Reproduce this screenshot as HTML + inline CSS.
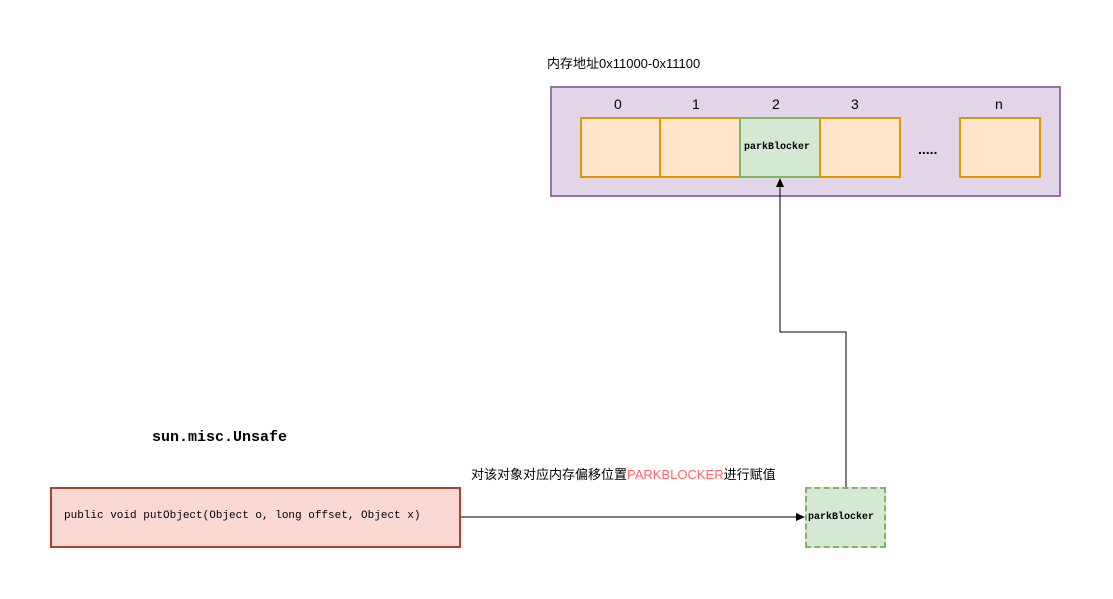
<!DOCTYPE html>
<html><head><meta charset="utf-8"><style>
body{margin:0;width:1113px;height:599px;background:#fff;overflow:hidden;position:relative;font-family:"Liberation Sans","Noto Sans CJK SC",sans-serif}
.a{position:absolute;box-sizing:border-box}
.t{position:absolute;font-size:14px;color:#000;white-space:nowrap}
.c{background:#ffe6cc;border:2px solid #d79b00}
.mono{font-family:"Liberation Mono",monospace}
</style></head><body>
<div class="t" style="left:547px;top:53px;font-size:13px">内存地址0x11000-0x11100</div>
<div class="a" style="left:550px;top:86px;width:511px;height:111px;background:#e1d5e7;border:2px solid #9673a6"></div>
<div class="t" style="left:614px;top:96px">0</div>
<div class="t" style="left:692px;top:96px">1</div>
<div class="t" style="left:772px;top:96px">2</div>
<div class="t" style="left:851px;top:96px">3</div>
<div class="t" style="left:995px;top:96px">n</div>
<div class="a c" style="left:580px;top:117px;width:81px;height:61px"></div>
<div class="a c" style="left:659px;top:117px;width:82px;height:61px"></div>
<div class="a" style="left:739px;top:117px;width:82px;height:61px;background:#d5e8d4;border:2px solid #82b366"></div>
<div class="t mono" style="left:744px;top:142px;font-size:10px;font-weight:bold">parkBlocker</div>
<div class="a c" style="left:819px;top:117px;width:82px;height:61px"></div>
<div class="t" style="left:918px;top:141px;font-weight:bold">.....</div>
<div class="a c" style="left:959px;top:117px;width:82px;height:61px"></div>
<div class="t mono" style="left:152px;top:429px;font-size:15px;font-weight:bold">sun.misc.Unsafe</div>
<div class="t" style="left:471px;top:464px;font-size:13px">对该对象对应内存偏移位置<span style="color:#ff6666">PARKBLOCKER</span>进行赋值</div>
<div class="a" style="left:50px;top:487px;width:411px;height:61px;background:#fad9d5;border:2px solid #ae4132"></div>
<div class="t mono" style="left:64px;top:510px;font-size:11px">public void putObject(Object o, long offset, Object x)</div>
<div class="a" style="left:805px;top:487px;width:81px;height:61px;background:#d5e8d4;border:2px dashed #82b366"></div>
<div class="t mono" style="left:808px;top:512px;font-size:10px;font-weight:bold">parkBlocker</div>
<svg class="a" style="left:0;top:0" width="1113" height="599">
<polyline points="846,487 846,332 780,332 186,332" fill="none" stroke="none"/>
<polyline points="846,487 846,332 780,332 780,186" fill="none" stroke="#000" stroke-width="1"/>
<polygon points="780,178 776,187 784,187" fill="#000"/>
<line x1="461" y1="517" x2="797" y2="517" stroke="#000" stroke-width="1"/>
<polygon points="805,517 796,513 796,521" fill="#000"/>
</svg>
</body></html>
